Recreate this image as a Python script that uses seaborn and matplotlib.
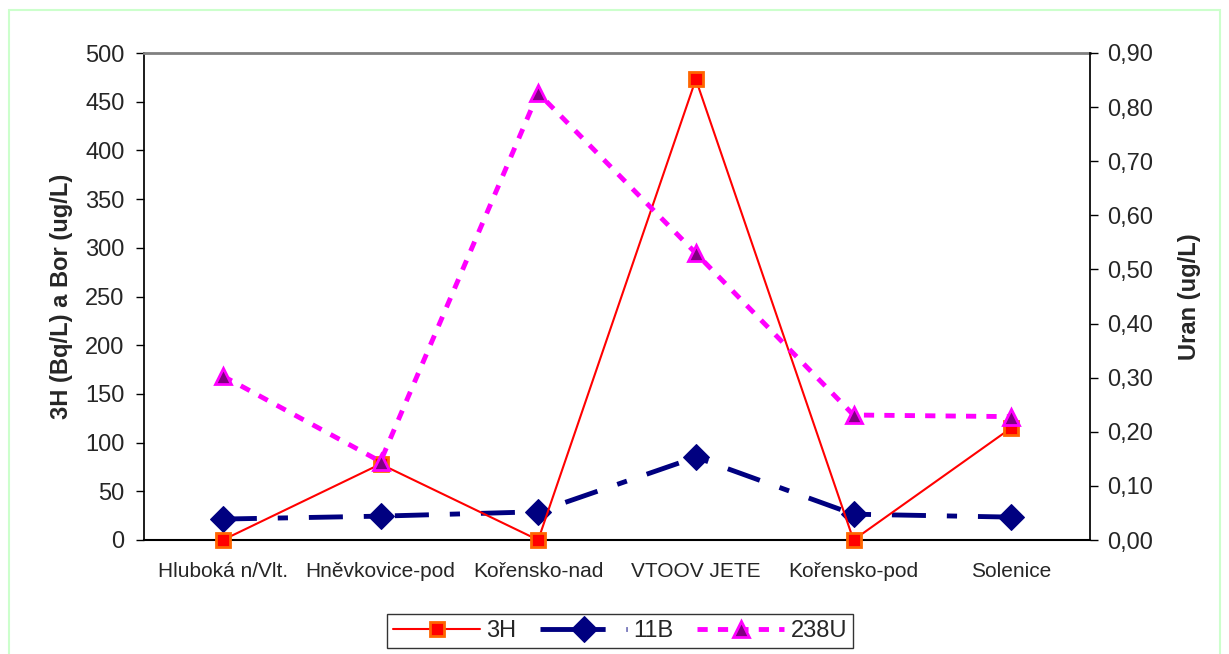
import matplotlib
matplotlib.use("Agg")
import matplotlib.pyplot as plt
import seaborn as sns
import numpy as np
import pandas as pd
from matplotlib.ticker import FuncFormatter, MultipleLocator
from matplotlib.patches import Rectangle

categories = ["Hluboká n/Vlt.", "Hněvkovice-pod", "Kořensko-nad", "VTOOV JETE", "Kořensko-pod", "Solenice"]
h3 = [0, 78, 0, 473, 0, 115]
b11 = [21.5, 24.5, 29, 85, 26.5, 23.5]
u238 = [0.303, 0.145, 0.826, 0.530, 0.231, 0.228]

sns.set_theme(style="white")
plt.rcParams['font.family'] = ['Liberation Sans', 'DejaVu Sans']

df = pd.DataFrame({"x": np.arange(len(categories)), "h3": h3, "b11": b11, "u238": u238})

fig = plt.figure(figsize=(12.29, 6.54), dpi=100)
ax = fig.add_axes([144/1229, 1-540/654, (1090-144)/1229, (540-53)/654])
ax2 = ax.twinx()

sns.lineplot(data=df, x="x", y="b11", ax=ax, color="#000080", linewidth=3.5, marker="D",
             markersize=13, markerfacecolor="#000080", markeredgecolor="#000080",
             label="11B", legend=False, zorder=2)
l_b = ax.lines[-1]
l_b.set_dashes([7, 4.3, 2.1, 4.3])
sns.lineplot(data=df, x="x", y="h3", ax=ax, color="red", linewidth=1.5, marker="s",
             markersize=10, markerfacecolor="red", markeredgecolor="#FF6600", markeredgewidth=2,
             label="3H", legend=False, zorder=3)
l_h = ax.lines[-1]
sns.lineplot(data=df, x="x", y="u238", ax=ax2, color="#FF00FF", linewidth=3.5, marker="^",
             markersize=11, markerfacecolor="#800080", markeredgecolor="#FF00FF", markeredgewidth=2,
             label="238U", legend=False, zorder=2)
l_u = ax2.lines[-1]
l_u.set_dashes([2.1, 2.1])
for l in (l_b, l_h, l_u):
    l.set_clip_on(False)

ax.set_xlim(-0.5, len(categories) - 0.5)
ax.set_ylim(0, 500)
ax2.set_ylim(0, 0.9)
ax.yaxis.set_major_locator(MultipleLocator(50))
ax2.yaxis.set_major_locator(MultipleLocator(0.1))
ax2.yaxis.set_major_formatter(FuncFormatter(lambda v, p: f"{v:.2f}".replace(".", ",")))

ax.set_xticks(np.arange(len(categories)))
ax.set_xticklabels(categories, fontsize=15)
ax.set_xticks(np.arange(-0.5, len(categories)), minor=True)
ax.tick_params(axis="x", which="major", length=0, pad=16)
ax.tick_params(axis="x", which="minor", length=6, direction="out", color="black", width=1)
ax.tick_params(axis="y", labelsize=17, length=6, direction="out", color="black", left=True, width=1, pad=8)
ax2.tick_params(axis="y", labelsize=17, length=6, direction="out", color="black", right=True, width=1, pad=6)

ax.set_xlabel("")
ax.set_ylabel("3H (Bq/L) a Bor (ug/L)", fontsize=17, fontweight="bold", labelpad=9)
ax2.set_ylabel("Uran (ug/L)", fontsize=17, fontweight="bold", labelpad=18)

for a in (ax, ax2):
    for s in a.spines.values():
        s.set_visible(False)
    a.grid(False)
ax.spines["left"].set_visible(True)
ax.spines["left"].set_color("black")
ax.spines["bottom"].set_visible(True)
ax.spines["bottom"].set_color("black")
ax.spines["bottom"].set_linewidth(1.5)
ax2.spines["right"].set_visible(True)
ax2.spines["right"].set_color("black")
ax.spines["top"].set_visible(True)
ax.spines["top"].set_color("#808080")
ax.spines["top"].set_linewidth(2)

leg = fig.legend([l_h, l_b, l_u], ["3H", "11B", "238U"], loc="center",
                 bbox_to_anchor=(620/1229, 1-631/654),
                 ncol=3, fontsize=17, frameon=True, fancybox=False, edgecolor="black",
                 handlelength=3.7, columnspacing=1.0, handletextpad=0.25, borderpad=0.25,
                 borderaxespad=0)
leg.get_frame().set_linewidth(1)

fig.patches.append(Rectangle((9/1229, -0.05), (1220-9)/1229, 1.05 - 10/654, transform=fig.transFigure,
                             fill=False, edgecolor="#CCFFCC", linewidth=1.5))

fig.savefig("out.png", dpi=100)
